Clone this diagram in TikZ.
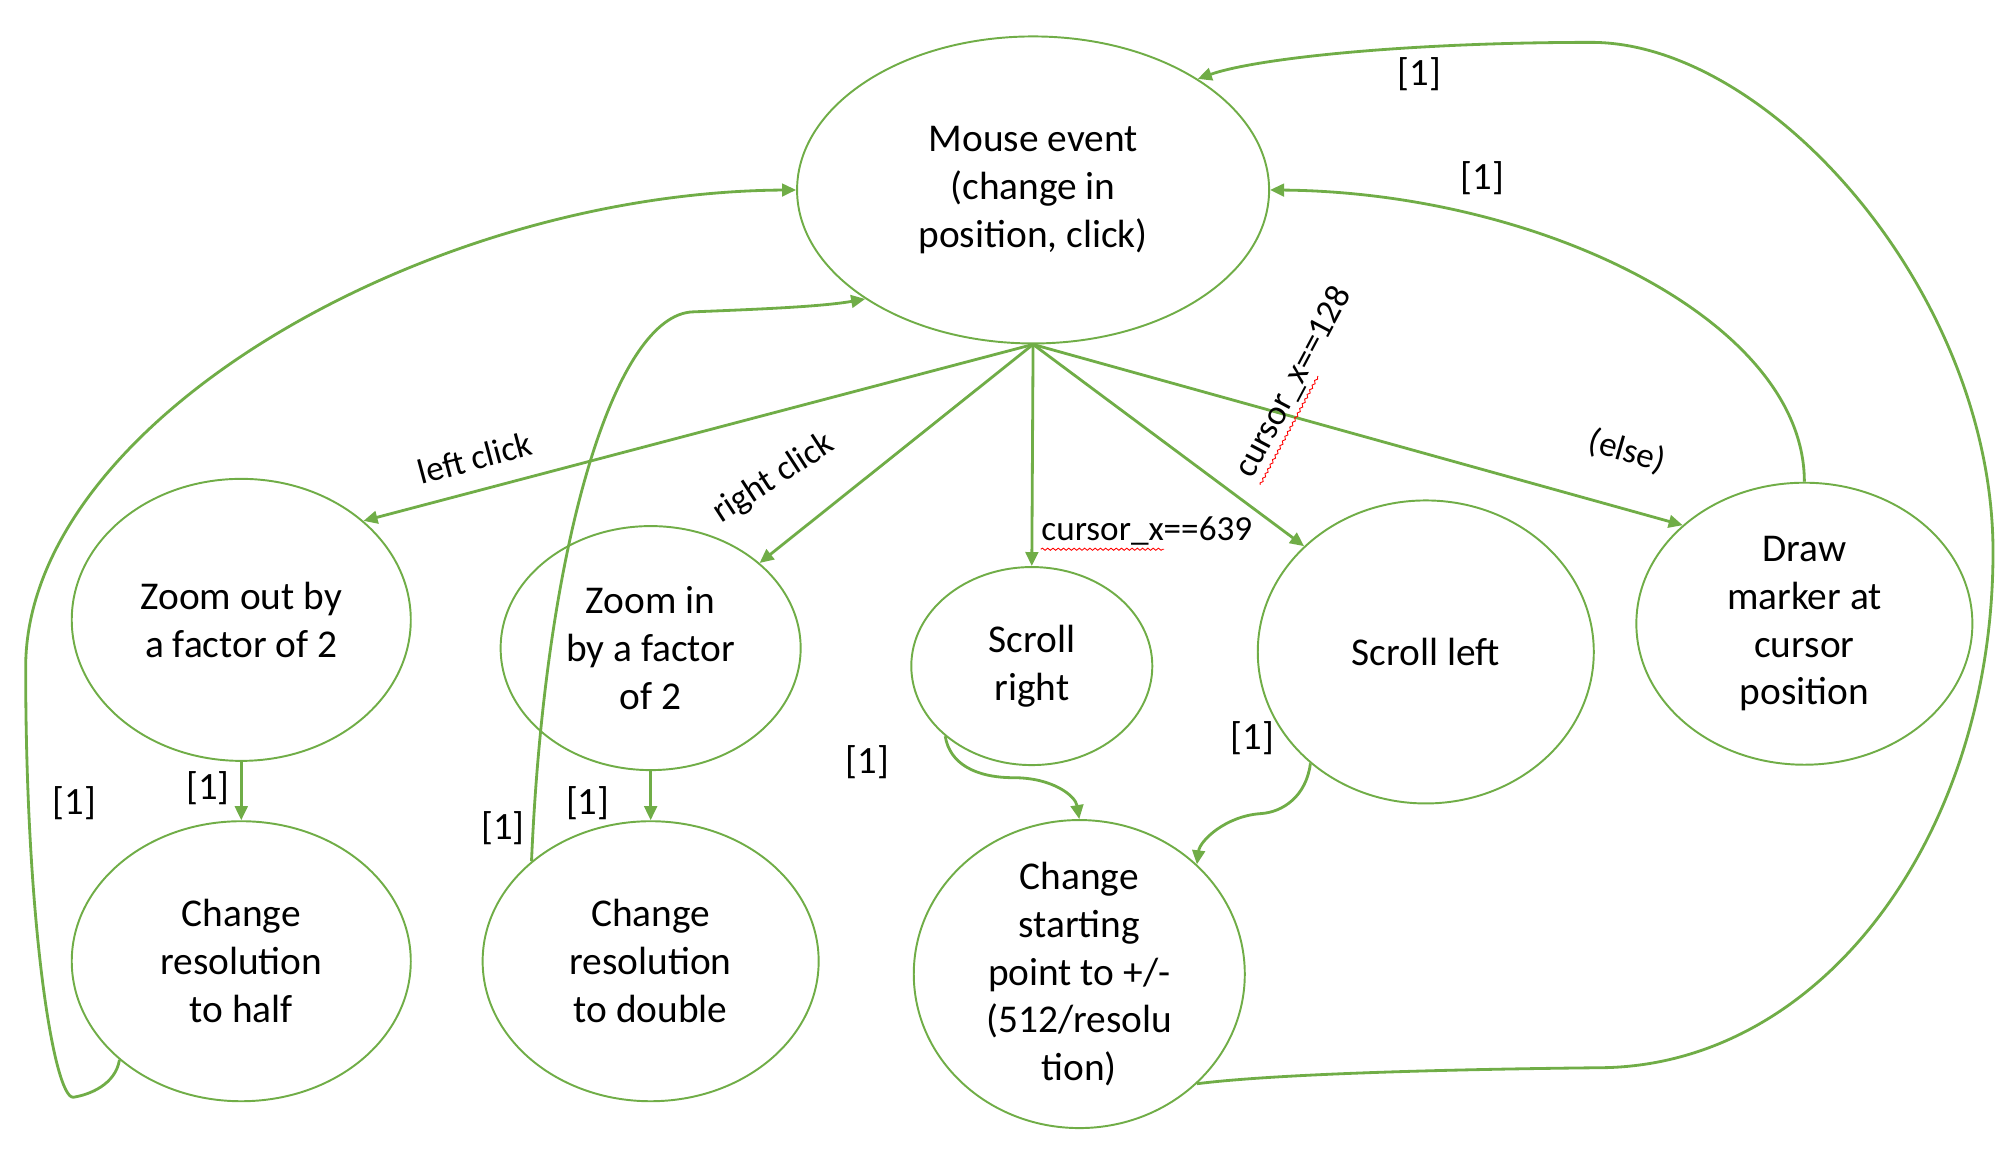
\documentclass[tikz,border=0pt]{standalone}
\usepackage{fontspec}
\setmainfont{Carlito}
\usetikzlibrary{shapes.geometric,arrows.meta,decorations.pathmorphing,calc}
\definecolor{flowgreen}{HTML}{70AD47}
\tikzset{
  state/.style={ellipse, draw=flowgreen, line width=0.55pt, inner sep=0pt, align=center,
    font=\fontsize{11.2}{13.6}\selectfont},
  flow/.style={draw=flowgreen, line width=0.8pt, -{Triangle[length=4pt,width=3.6pt]}},
  cond/.style={inner sep=1pt, font=\fontsize{10}{12}\selectfont},
  once/.style={inner sep=1pt, font=\fontsize{11}{13}\selectfont},
  squig/.style={draw=red, line width=0.25pt, decorate,
    decoration={snake, amplitude=0.3pt, segment length=1.5pt}}
}
\begin{document}
\begin{tikzpicture}[x=0.012833cm, y=-0.012833cm]
  \useasboundingbox (0,0) rectangle (1560,909);
  % states
  \node[state, minimum width=4.72cm, minimum height=3.07cm] (mouse) at (805,148) {Mouse event\\(change in\\position, click)};
  \node[state, minimum width=3.39cm, minimum height=2.82cm] (zoomout) at (188,483) {Zoom out by\\a factor of 2};
  \node[state, minimum width=3.00cm, minimum height=2.44cm] (zoomin) at (507,505) {Zoom in\\by a factor\\of 2};
  \node[state, minimum width=2.41cm, minimum height=1.98cm] (scrright) at (804,519) {Scroll\\right};
  \node[state, minimum width=3.36cm, minimum height=3.03cm] (scrleft) at (1111,508) {Scroll left};
  \node[state, minimum width=3.36cm, minimum height=2.82cm] (marker) at (1406,486) {Draw\\marker at\\cursor\\position};
  \node[state, minimum width=3.39cm, minimum height=2.80cm] (half) at (188,749) {Change\\resolution\\to half};
  \node[state, minimum width=3.36cm, minimum height=2.80cm] (double) at (507,749) {Change\\resolution\\to double};
  \node[state, inner ysep=-0.3cm, minimum width=3.31cm, minimum height=3.08cm] (start) at (841,759) {Change\\starting\\point to +/-\\(512/resolu\\tion)};
  % conditions
  \draw[flow] (mouse.south) -- (zoomout.39);
  \draw[flow] (mouse.south) -- (zoomin.38);
  \draw[flow] (mouse.south) -- (scrright.north);
  \draw[flow] (mouse.south) -- (scrleft.139);
  \draw[flow] (mouse.south) -- (marker.141);
  \node[cond, rotate=15] (lclick) at (370,357) {left click};
  \node[cond, rotate=33] (rclick) at (603,373) {right click};
  \node[cond, inner xsep=0pt, anchor=base west] (c639) at (811,421) {cursor\_x==639};
  \draw[squig] (c639.south west) -- ($(c639.south west)!0.581!(c639.south east)$);
  \node[cond, inner xsep=0pt, rotate=62] (c128) at (1008,298) {cursor\_x==128};
  \draw[squig] (c128.south west) -- ($(c128.south west)!0.581!(c128.south east)$);
  \node[cond, rotate=-16] (other) at (1268,352) {(else)};
  % unconditional steps
  \draw[flow] (zoomout.south) -- (half.north);
  \draw[flow] (zoomin.south) -- (double.north);
  \draw[flow] (half.219) .. controls (90,845) and (70,853) .. (57,855)
    .. controls (42,855) and (20,720) .. (20,520)
    .. controls (20,330) and (330,150) .. (mouse.west);
  \draw[flow] (double.140) .. controls (425,420) and (480,245) .. (540,243)
    .. controls (590,241) and (640,239) .. (mouse.213);
  \draw[flow] (scrright.219) .. controls (740,595) and (760,606) .. (790,606)
    .. controls (820,606) and (838,620) .. (start.north);
  \draw[flow] (scrleft.224) .. controls (1018,620) and (1000,633) .. (982,634)
    .. controls (955,636) and (935,655) .. (start.43);
  \draw[flow] (marker.north) .. controls (1406,250) and (1200,150) .. (mouse.east);
  \draw[flow] (start.-43) .. controls (1000,836) and (1150,833) .. (1245,832)
    .. controls (1420,832) and (1553,650) .. (1553,430)
    .. controls (1553,230) and (1380,33) .. (1240,33)
    .. controls (1100,33) and (980,45) .. (mouse.34);
  \node[once] (onehalf) at (162,614) {[1]};
  \node[once] (oneback) at (58,626) {[1]};
  \node[once] (onedouble) at (458,626) {[1]};
  \node[once] (oneup) at (392,645) {[1]};
  \node[once] (oneright) at (676,594) {[1]};
  \node[once] (oneleft) at (976,575) {[1]};
  \node[once] (onemark) at (1155,139) {[1]};
  \node[once] (onestart) at (1106,58) {[1]};
\end{tikzpicture}
\end{document}
